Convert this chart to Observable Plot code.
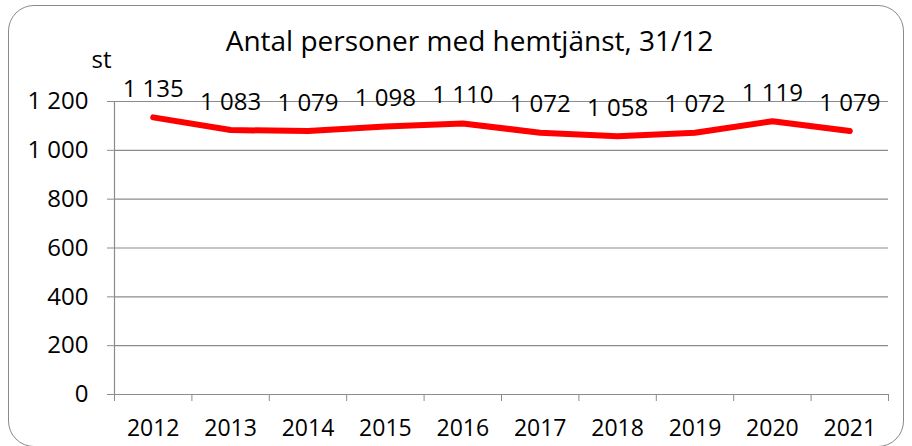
<!DOCTYPE html>
<html>
<head>
<meta charset="utf-8">
<script src="https://cdn.jsdelivr.net/npm/d3@7"></script>
<script src="https://cdn.jsdelivr.net/npm/@observablehq/plot@0.6"></script>
<style>
  html, body { margin: 0; padding: 0; background: #fff; }
  #wrap { position: relative; width: 912px; height: 446px; overflow: hidden; }
  #frame { position: absolute; left: 8px; top: 5px; width: 896px; height: 442px;
           border: 1.5px solid #8a8a8a; border-radius: 26px; box-sizing: border-box; }
  #chart { position: absolute; left: 0; top: 0; }
</style>
</head>
<body>
<div id="wrap"><div id="frame"></div><div id="chart"></div></div>
<script>
const title = "Antal personer med hemtjänst, 31/12";
const unitLabel = "st";
const years = ["2012","2013","2014","2015","2016","2017","2018","2019","2020","2021"];
const values = [1135, 1083, 1079, 1098, 1110, 1072, 1058, 1072, 1119, 1079];
const yTicks = [0, 200, 400, 600, 800, 1000, 1200];

const fmt = d3.formatLocale({decimal: ",", thousands: " ", grouping: [3], currency: ["", " kr"]}).format(",");
const data = years.map((y, i) => ({year: y, i, value: values[i]}));
const gray = "#8c8c8c";
const fs = 24;

const chart = Plot.plot({
  width: 912,
  height: 446,
  marginLeft: 114,
  marginRight: 24,
  marginTop: 101,
  marginBottom: 52,
  style: {fontFamily: "'Open Sans', sans-serif", fontSize: fs + "px", background: "transparent", color: "#000", overflow: "visible"},
  x: {type: "linear", domain: [0, years.length]},
  y: {domain: [0, 1200]},
  marks: [
    Plot.ruleY(yTicks, {stroke: gray, strokeWidth: 1.2}),
    Plot.ruleX([0], {stroke: gray, strokeWidth: 1.2}),
    Plot.axisY({ticks: yTicks, tickSize: 7, tickPadding: 19, tickFormat: fmt, stroke: gray, fill: "#000", fontSize: fs, label: null}),
    Plot.axisX({ticks: d3.range(years.length + 1), tickSize: 7, tickFormat: () => "", stroke: gray, label: null}),
    Plot.axisX({ticks: d3.range(years.length).map(i => i + 0.5), tickSize: 0, tickPadding: 25, tickFormat: d => years[Math.round(d - 0.5)], fill: "#000", fontSize: 23, label: null}),
    Plot.line(data, {x: d => d.i + 0.5, y: "value", stroke: "#ff0000", strokeWidth: 6, strokeLinejoin: "round"}),
    Plot.text(data, {x: d => d.i + 0.5, y: "value", text: d => fmt(d.value), dy: -28, fontSize: fs, fill: "#000"}),
    Plot.text([title], {frameAnchor: "top", dx: -32, dy: -59, lineAnchor: "middle", fontSize: 28, fill: "#000"}),
    Plot.text([unitLabel], {frameAnchor: "top-left", dx: -13, dy: -41, textAnchor: "middle", lineAnchor: "middle", fontSize: fs, fill: "#000"})
  ]
});
document.getElementById("chart").appendChild(chart);
</script>
</body>
</html>
